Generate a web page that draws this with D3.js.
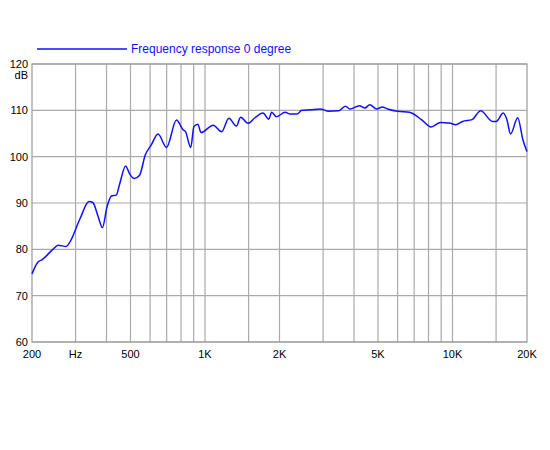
<!DOCTYPE html>
<html><head><meta charset="utf-8">
<script src="https://cdn.jsdelivr.net/npm/d3@7"></script>
<style>body{margin:0;background:#fff}text{font-family:"Liberation Sans",Arial,sans-serif}</style>
</head><body><svg id="c" width="550" height="450"></svg>
<script>
const freqs=[200,211,220,243,255,275,284,312,340,352,370,385,402,419,438,451,478,496,518,544,574,606,646,699,767,816,834,876,902,936,963,1080,1167,1249,1339,1393,1493,1591,1715,1810,1860,1943,2108,2210,2352,2462,2660,2920,3160,3470,3690,3850,4210,4430,4630,4940,5200,5470,6000,6700,7490,8200,8950,9820,10300,10990,12000,13000,14520,15000,16040,16580,17170,18340,19260,20000];
const dbs=[74.7,77.2,77.8,80.0,80.9,80.6,81.5,86.5,90.3,90.1,87.1,84.7,89.2,91.5,91.7,93.9,98.0,96.3,95.3,96.0,100.4,102.5,104.9,102.0,107.9,105.8,105.4,102.0,106.5,107.0,105.2,106.8,105.4,108.3,106.6,108.5,107.2,108.4,109.4,108.1,109.6,108.6,109.6,109.2,109.2,110.0,110.1,110.3,109.8,109.9,110.9,110.3,111.0,110.5,111.2,110.3,110.7,110.3,109.8,109.6,108.0,106.4,107.4,107.2,106.9,107.6,108.0,109.9,107.6,107.6,109.4,108.0,104.9,108.4,103.6,101.1];
const gridFreqs=[300,400,500,600,700,800,900,1000,1500,2000,3000,4000,5000,6000,7000,8000,9000,10000,15000];
const xTickVals=[200,300,500,1000,2000,5000,10000,20000];
const xTickLabels=["200","Hz","500","1K","2K","5K","10K","20K"];
const yTicks=[60,70,80,90,100,110,120];
const seriesName="Frequency response 0 degree";

const svg=d3.select("#c");
const x=d3.scaleLog().domain([200,20000]).range([32,527]);
const y=d3.scaleLinear().domain([60,120]).range([342,64]);
const g=svg.append("g");
g.selectAll(".vg").data(gridFreqs).join("line").attr("x1",d=>x(d)).attr("x2",d=>x(d)).attr("y1",64).attr("y2",342).attr("stroke","#aaa").attr("stroke-width",1.2);
g.selectAll(".hg").data(yTicks).join("line").attr("x1",32).attr("x2",527).attr("y1",d=>y(d)).attr("y2",d=>y(d)).attr("stroke","#aaa").attr("stroke-width",1.2);
g.append("rect").attr("x",32).attr("y",64).attr("width",495).attr("height",278).attr("fill","none").attr("stroke","#999").attr("stroke-width",1.2);
g.selectAll(".yl").data(yTicks).join("text").attr("x",28).attr("y",d=>y(d)+4).attr("text-anchor","end").attr("font-size",11).text(d=>d);
g.append("text").attr("x",28).attr("y",y(120)+15).attr("text-anchor","end").attr("font-size",11).text("dB");
g.selectAll(".xl").data(xTickVals).join("text").attr("x",d=>x(d)).attr("y",358).attr("text-anchor","middle").attr("font-size",11).text((d,i)=>xTickLabels[i]);
const data=freqs.map((f,i)=>[f,dbs[i]]);
g.append("path").datum(data).attr("fill","none").attr("stroke","#1010ff").attr("stroke-width",1.5)
 .attr("d",d3.line().x(d=>x(d[0])).y(d=>y(d[1])).curve(d3.curveMonotoneX));
g.append("line").attr("x1",37).attr("x2",127).attr("y1",49).attr("y2",49).attr("stroke","#1010ff").attr("stroke-width",1.5);
g.append("text").attr("x",131).attr("y",53).attr("font-size",12).attr("fill","#1010ff").text(seriesName);
</script></body></html>
